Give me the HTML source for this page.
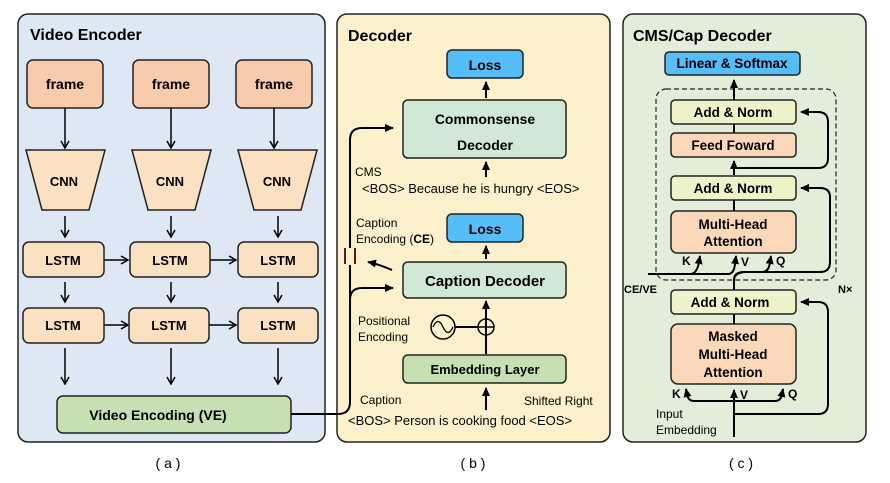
<!DOCTYPE html>
<html><head><meta charset="utf-8"><style>
html,body{margin:0;padding:0;background:#fff}
svg{display:block}
text{font-family:"Liberation Sans",sans-serif}
.b{font-weight:bold}
</style></head><body>
<svg width="890" height="483" viewBox="0 0 890 483" xmlns="http://www.w3.org/2000/svg">
<defs>
<marker id="o" markerWidth="10" markerHeight="10" refX="8" refY="5" orient="auto" markerUnits="userSpaceOnUse"><path d="M1,1 L8,5 L1,9" fill="none" stroke="#000" stroke-width="1.5"/></marker>
<marker id="f" markerWidth="10" markerHeight="10" refX="8" refY="5" orient="auto" markerUnits="userSpaceOnUse"><path d="M0,1 L9,5 L0,9 Z" fill="#000"/></marker>
</defs>
<rect x="18" y="14" width="307" height="428" rx="10" fill="#dde8f4" stroke="#222" stroke-width="1.5"/>
<rect x="337" y="14" width="273" height="428" rx="10" fill="#fdf1cd" stroke="#222" stroke-width="1.5"/>
<rect x="623" y="14" width="243" height="428" rx="10" fill="#e2eed9" stroke="#222" stroke-width="1.5"/>
<text x="30" y="40" class="b" font-size="16">Video Encoder</text>
<text x="348" y="41" class="b" font-size="16">Decoder</text>
<text x="633" y="41" class="b" font-size="16">CMS/Cap Decoder</text>

<g stroke="#222" stroke-width="1.5" fill="#f8cbad">
<rect x="27" y="60" width="76" height="48" rx="6"/>
<rect x="133" y="60" width="76" height="48" rx="6"/>
<rect x="236" y="60" width="76" height="48" rx="6"/>
</g>
<g font-size="14" text-anchor="middle">
<text x="65" y="89" class="b">frame</text><text x="171" y="89" class="b">frame</text><text x="274" y="89" class="b">frame</text>
</g>
<g stroke="#000" stroke-width="1.5" marker-end="url(#o)">
<line x1="65" y1="108" x2="65" y2="148"/><line x1="171" y1="108" x2="171" y2="148"/><line x1="274" y1="108" x2="274" y2="148"/>
<line x1="65" y1="216" x2="65" y2="237"/><line x1="171" y1="216" x2="171" y2="237"/><line x1="278" y1="216" x2="278" y2="237"/>
<line x1="65" y1="282" x2="65" y2="302"/><line x1="171" y1="282" x2="171" y2="302"/><line x1="278" y1="282" x2="278" y2="302"/>
<line x1="65" y1="348" x2="65" y2="384"/><line x1="171" y1="348" x2="171" y2="384"/><line x1="278" y1="348" x2="278" y2="384"/>
<line x1="104" y1="260" x2="128" y2="260"/><line x1="210" y1="260" x2="236" y2="260"/>
<line x1="104" y1="325" x2="128" y2="325"/><line x1="209" y1="325" x2="236" y2="325"/>
</g>
<g stroke="#222" stroke-width="1.5" fill="#fce0c2">
<path d="M26,150 L105,150 L89,210 L42,210 Z"/>
<path d="M132,150 L211,150 L195,210 L148,210 Z"/>
<path d="M238,150 L317,150 L301,210 L254,210 Z"/>
<rect x="23" y="242" width="81" height="35" rx="6"/>
<rect x="130" y="242" width="80" height="35" rx="6"/>
<rect x="238" y="242" width="80" height="35" rx="6"/>
<rect x="23" y="308" width="81" height="35" rx="6"/>
<rect x="129" y="308" width="80" height="35" rx="6"/>
<rect x="238" y="308" width="80" height="35" rx="6"/>
</g>
<g font-size="13" text-anchor="middle">
<text x="64" y="186" class="b">CNN</text><text x="170" y="186" class="b">CNN</text><text x="277" y="186" class="b">CNN</text>
<text x="63" y="265" class="b">LSTM</text><text x="170" y="265" class="b">LSTM</text><text x="278" y="265" class="b">LSTM</text>
<text x="63" y="330" class="b">LSTM</text><text x="169" y="330" class="b">LSTM</text><text x="278" y="330" class="b">LSTM</text>
</g>
<rect x="57" y="396" width="234" height="37" rx="6" fill="#c6e0b4" stroke="#222" stroke-width="1.5"/>
<text x="158" y="420" class="b" font-size="14" text-anchor="middle">Video Encoding (VE)</text>

<g stroke="#000" stroke-width="2" fill="none">
<path d="M291,414 L338,414 Q350,414 350,402 L350,265"/>
<path d="M350,248 L350,140 Q350,128 362,128 L393,128" marker-end="url(#f)"/>
<path d="M350,300 Q350,288 362,288 L393,288" marker-end="url(#f)"/>
<path d="M392,270 Q378,264 368,262" marker-end="url(#f)"/>
<line x1="486" y1="98" x2="486" y2="82" marker-end="url(#f)"/>
<line x1="486" y1="177" x2="486" y2="162" marker-end="url(#f)"/>
<line x1="486" y1="259" x2="486" y2="246" marker-end="url(#f)"/>
<line x1="486" y1="318" x2="486" y2="301" marker-end="url(#f)"/>
<line x1="486" y1="318" x2="486" y2="354"/>
<line x1="486" y1="410" x2="486" y2="388" marker-end="url(#f)"/>
<line x1="455" y1="327" x2="478" y2="327"/>
</g>
<g stroke="#5a1a1a" stroke-width="2"><line x1="345" y1="248" x2="345" y2="264"/><line x1="355" y1="248" x2="355" y2="264"/></g>
<circle cx="443" cy="327" r="12" fill="none" stroke="#000" stroke-width="1.5"/>
<path d="M433,327 Q438,316 443,327 Q448,338 453,327" fill="none" stroke="#000" stroke-width="1.3"/>
<circle cx="486" cy="327" r="8" fill="none" stroke="#000" stroke-width="1.5"/>
<line x1="478" y1="327" x2="494" y2="327" stroke="#000" stroke-width="1.5"/>
<g stroke="#222" stroke-width="1.5">
<rect x="447" y="50" width="76" height="28" rx="5" fill="#55bdf7"/>
<rect x="403" y="100" width="163" height="58" rx="5" fill="#d2e8d6"/>
<rect x="447" y="214" width="76" height="28" rx="5" fill="#55bdf7"/>
<rect x="403" y="262" width="163" height="36" rx="5" fill="#d2e8d6"/>
<rect x="403" y="355" width="163" height="28" rx="5" fill="#c6e0b4"/>
</g>
<g text-anchor="middle">
<text x="485" y="70" class="b" font-size="14">Loss</text>
<text x="485" y="124" class="b" font-size="14">Commonsense</text>
<text x="485" y="150" class="b" font-size="14">Decoder</text>
<text x="485" y="234" class="b" font-size="14">Loss</text>
<text x="485" y="286" class="b" font-size="15">Caption Decoder</text>
<text x="485" y="374" class="b" font-size="13">Embedding Layer</text>
</g>
<g font-size="12">
<text x="355" y="176">CMS</text>
<text x="362" y="193" font-size="13">&lt;BOS&gt; Because he is hungry &lt;EOS&gt;</text>
<text x="356" y="227">Caption</text>
<text x="356" y="243">Encoding (<tspan class="b">CE</tspan>)</text>
<text x="358" y="325">Positional</text>
<text x="358" y="341">Encoding</text>
<text x="360" y="404">Caption</text>
<text x="524" y="405">Shifted Right</text>
<text x="348" y="425" font-size="13">&lt;BOS&gt; Person is cooking food &lt;EOS&gt;</text>
</g>

<rect x="656" y="89" width="180" height="191" rx="10" fill="none" stroke="#222" stroke-width="1.2" stroke-dasharray="5,3"/>
<g stroke="#000" stroke-width="2" fill="none">
<line x1="734" y1="100" x2="734" y2="80" marker-end="url(#f)"/>
<line x1="734" y1="124" x2="734" y2="133"/>
<line x1="734" y1="175" x2="734" y2="161" marker-end="url(#f)"/>
<path d="M734,168 L818,168 Q828,168 828,158 L828,122 Q828,112 818,112 L801,112" marker-end="url(#f)"/>
<line x1="734" y1="200" x2="734" y2="211"/>
<path d="M734,290 L734,280 Q734,272 744,272 L820,272 Q830,272 830,262 L830,197 Q830,188 820,188 L801,188" marker-end="url(#f)"/>
<path d="M648,274 L690,274 Q697,274 699,262 L700,256" marker-end="url(#f)"/>
<path d="M690,274 L728,274 Q734,274 735,264 L736,256" marker-end="url(#f)"/>
<path d="M734,280 Q734,273 745,272 L762,272 Q769,272 770,262 L771,256" marker-end="url(#f)"/>
<line x1="734" y1="314" x2="734" y2="324"/>
<path d="M734,437 L734,390" marker-end="url(#f)"/>
<path d="M734,401 L694,401 Q688,401 687,394 L686,389" marker-end="url(#f)"/>
<path d="M734,401 L775,401 Q781,401 782,394 L783,389" marker-end="url(#f)"/>
<path d="M734,414 L818,414 Q828,414 828,404 L828,312 Q828,302 818,302 L801,302" marker-end="url(#f)"/>
</g>
<g stroke="#222" stroke-width="1.5">
<rect x="665" y="52" width="135" height="23" rx="4" fill="#55bdf7"/>
<rect x="671" y="100" width="125" height="24" rx="4" fill="#eff3c9"/>
<rect x="671" y="133" width="125" height="24" rx="4" fill="#fbd8b9"/>
<rect x="671" y="176" width="125" height="24" rx="4" fill="#eff3c9"/>
<rect x="671" y="211" width="125" height="42" rx="6" fill="#fbd8b9"/>
<rect x="671" y="290" width="125" height="24" rx="4" fill="#eff3c9"/>
<rect x="671" y="324" width="125" height="60" rx="7" fill="#fbd8b9"/>
</g>
<g text-anchor="middle" font-size="13.5">
<text x="732" y="68" class="b">Linear &amp; Softmax</text>
<text x="733" y="117" class="b">Add &amp; Norm</text>
<text x="733" y="150" class="b">Feed Foward</text>
<text x="733" y="193" class="b">Add &amp; Norm</text>
<text x="733" y="229" class="b">Multi-Head</text>
<text x="733" y="246" class="b">Attention</text>
<text x="730" y="307" class="b">Add &amp; Norm</text>
<text x="733" y="341" class="b">Masked</text>
<text x="733" y="359" class="b">Multi-Head</text>
<text x="733" y="377" class="b">Attention</text>
</g>
<g font-size="12">
<text x="682" y="265" class="b">K</text><text x="741" y="266" class="b">V</text><text x="776" y="265" class="b">Q</text>
<text x="672" y="398" class="b">K</text><text x="740" y="399" class="b">V</text><text x="788" y="398" class="b">Q</text>
<text x="624" y="293" class="b" font-size="11">CE/VE</text>
<text x="838" y="293" class="b" font-size="11">N×</text>
</g>
<text x="656" y="418" font-size="12">Input</text>
<text x="656" y="434" font-size="12">Embedding</text>

<g font-size="14" text-anchor="middle">
<text x="168" y="468">( a )</text>
<text x="473" y="468">( b )</text>
<text x="741" y="468">( c )</text>
</g>
</svg>
</body></html>
